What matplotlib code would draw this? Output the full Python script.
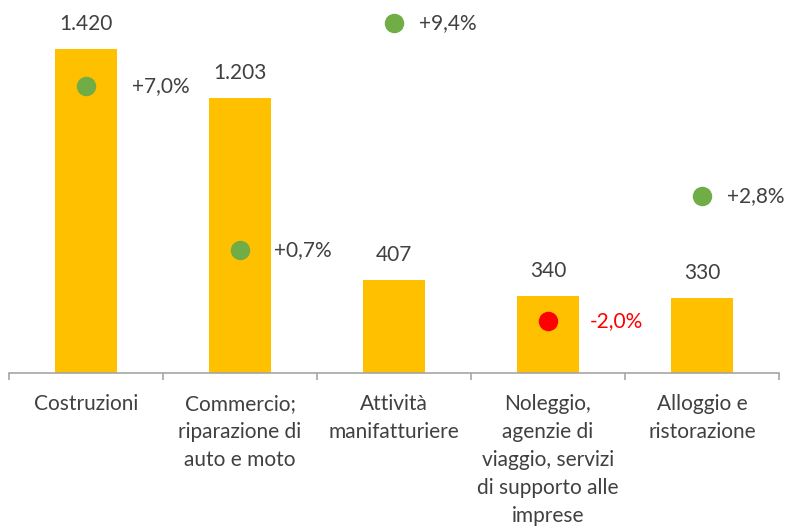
import numpy as np
import matplotlib
matplotlib.use('Agg')
import matplotlib.pyplot as plt

# data
categories = ['Costruzioni',
              'Commercio;\nriparazione di\nauto e moto',
              'Attività\nmanifatturiere',
              'Noleggio,\nagenzie di\nviaggio, servizi\ndi supporto alle\nimprese',
              'Alloggio e\nristorazione']
values = [1420, 1203, 407, 340, 330]
value_labels = ['1.420', '1.203', '407', '340', '330']
changes = [7.0, 0.7, 9.4, -2.0, 2.8]
change_labels = ['+7,0%', '+0,7%', '+9,4%', '-2,0%', '+2,8%']

# horizontal gap (pixels) between each dot and its label, as placed in the original
label_gap = [46, 34, 25, 42, 25]

BAR = '#FFC000'
GREEN = '#70AD47'
RED = '#FF0000'
TXT = '#404040'
FS = 15

plt.rcParams['font.family'] = ['Lato', 'DejaVu Sans']

fig = plt.figure(figsize=(7.91, 5.32), dpi=100)
ax = fig.add_axes([9 / 791, 1 - 373.3 / 532, 770 / 791, (373.3 - 7.5) / 532])
x = np.arange(len(categories))

ax.bar(x, values, width=0.405, color=BAR, zorder=2)
ax.set_xlim(-0.5, len(categories) - 0.5)
ax.set_ylim(0, 1600)
for xi, v, lab in zip(x, values, value_labels):
    ax.annotate(lab, (xi, v), xytext=(0, 15), textcoords='offset pixels',
                ha='center', va='bottom', fontsize=FS, color=TXT)

ax.set_yticks([])
for s in ['top', 'right', 'left']:
    ax.spines[s].set_visible(False)
ax.spines['bottom'].set_color('#A6A6A6')
ax.spines['bottom'].set_linewidth(1.2)
ax.set_xticks(x)
ax.set_xticklabels(categories, fontsize=FS, color=TXT, linespacing=1.5, va='top')
ax.tick_params(axis='x', which='major', length=0, pad=15)
ax.set_xticks(np.arange(-0.5, len(categories)), minor=True)
ax.tick_params(axis='x', which='minor', length=5, color='#A6A6A6', width=1.2)

ax2 = ax.twinx()
ax2.set_ylim(-4, 10)
ax2.set_yticks([])
for s in ['top', 'right', 'left', 'bottom']:
    ax2.spines[s].set_visible(False)
for xi, c, lab, gap in zip(x, changes, change_labels, label_gap):
    col = RED if c < 0 else GREEN
    ax2.plot(xi, c, 'o', color=col, markersize=13, zorder=3)
    ax2.annotate(lab, (xi, c), xytext=(gap, 0), textcoords='offset pixels',
                 ha='left', va='center', fontsize=FS,
                 color=RED if c < 0 else TXT)

fig.savefig('out.png', dpi=100)
